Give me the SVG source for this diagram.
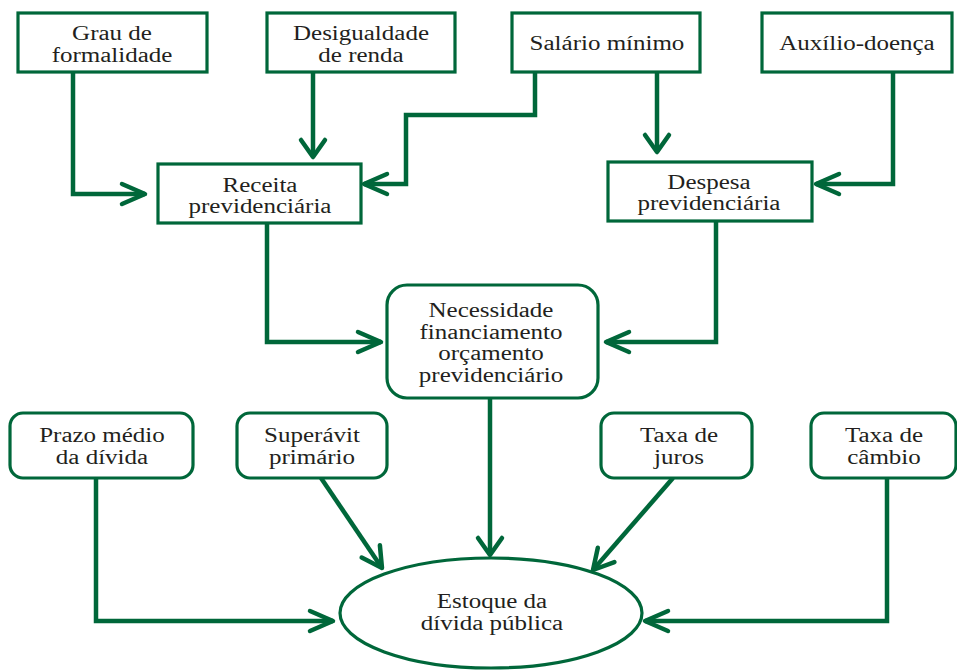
<svg xmlns="http://www.w3.org/2000/svg" width="957" height="670" viewBox="0 0 957 670">
<style>
.box{fill:#fff;stroke:#00673a;stroke-width:3.2}
.t{font-family:"Liberation Serif","Times New Roman",serif;font-size:20px;fill:#231f20;text-anchor:middle}
.c{fill:none;stroke:#00673a;stroke-width:4.5;stroke-linejoin:miter}
</style>
<defs>
<marker id="ah" markerUnits="userSpaceOnUse" markerWidth="60" markerHeight="60" viewBox="-30 -30 60 60" refX="0" refY="0" orient="auto" overflow="visible">
<path d="M-23,-10 L0,0 L-23,10" fill="none" stroke="#00673a" stroke-width="4.5" stroke-linecap="round" stroke-linejoin="round"/>
</marker>
<marker id="av" markerUnits="userSpaceOnUse" markerWidth="60" markerHeight="60" viewBox="-30 -30 60 60" refX="0" refY="0" orient="auto" overflow="visible">
<path d="M-17,-12 L0,0 L-17,12" fill="none" stroke="#00673a" stroke-width="4.5" stroke-linecap="round" stroke-linejoin="round"/>
</marker>
<marker id="ad" markerUnits="userSpaceOnUse" markerWidth="60" markerHeight="60" viewBox="-30 -30 60 60" refX="0" refY="0" orient="auto" overflow="visible">
<path d="M-20,-11 L0,0 L-20,11" fill="none" stroke="#00673a" stroke-width="4.5" stroke-linecap="round" stroke-linejoin="round"/>
</marker>
</defs>
<rect width="957" height="670" fill="#fff"/>
<g id="connectors">
<path class="c" d="M73,72 V194 H145" marker-end="url(#ah)"/>
<path class="c" d="M313,72 V157" marker-end="url(#av)"/>
<path class="c" d="M535,72 V115 H406 V184 H364" marker-end="url(#ah)"/>
<path class="c" d="M657,72 V152" marker-end="url(#av)"/>
<path class="c" d="M893,72 V184 H816" marker-end="url(#ah)"/>
<path class="c" d="M267,223 V342 H381" marker-end="url(#ah)"/>
<path class="c" d="M716,221 V342 H606" marker-end="url(#ah)"/>
<path class="c" d="M490,398 V555" marker-end="url(#av)"/>
<path class="c" d="M96,478 V621 H333" marker-end="url(#ah)"/>
<path class="c" d="M321,478 L382,568" marker-end="url(#ad)"/>
<path class="c" d="M673,478 L593,570" marker-end="url(#ad)"/>
<path class="c" d="M887,478 V621 H645" marker-end="url(#ah)"/>
</g>
<g id="grau">
<rect class="box" x="18" y="13" width="189" height="59"/>
<g transform="matrix(1.25 0 0 1 -28 0)"><text class="t" x="112" y="40">Grau de</text><text class="t" x="112" y="62">formalidade</text></g>
</g>
<g id="desigualdade">
<rect class="box" x="267" y="13" width="188" height="59"/>
<g transform="matrix(1.25 0 0 1 -90.25 0)"><text class="t" x="361" y="40">Desigualdade</text><text class="t" x="361" y="62">de renda</text></g>
</g>
<g id="salario">
<rect class="box" x="512" y="13" width="188" height="59"/>
<g transform="matrix(1.25 0 0 1 -151.75 0)"><text class="t" x="607" y="50">Salário mínimo</text></g>
</g>
<g id="auxilio">
<rect class="box" x="762" y="13" width="190" height="59"/>
<g transform="matrix(1.25 0 0 1 -214.25 0)"><text class="t" x="857" y="50">Auxílio-doença</text></g>
</g>
<g id="receita">
<rect class="box" x="158" y="164" width="203" height="59"/>
<g transform="matrix(1.25 0 0 1 -65 0)"><text class="t" x="260" y="192">Receita</text><text class="t" x="260" y="213">previdenciária</text></g>
</g>
<g id="despesa">
<rect class="box" x="608" y="162" width="204" height="59"/>
<g transform="matrix(1.25 0 0 1 -177.25 0)"><text class="t" x="709" y="189">Despesa</text><text class="t" x="709" y="210">previdenciária</text></g>
</g>
<g id="necessidade">
<rect class="box" x="387" y="285" width="211" height="113" rx="20" ry="20"/>
<g transform="matrix(1.25 0 0 1 -122.75 0)"><text class="t" x="491" y="317">Necessidade</text><text class="t" x="491" y="339">financiamento</text><text class="t" x="491" y="360">orçamento</text><text class="t" x="491" y="382">previdenciário</text></g>
</g>
<g id="prazo">
<rect class="box" x="10" y="413" width="183" height="65" rx="13" ry="13"/>
<g transform="matrix(1.25 0 0 1 -25.5 0)"><text class="t" x="102" y="442">Prazo médio</text><text class="t" x="102" y="464">da dívida</text></g>
</g>
<g id="superavit">
<rect class="box" x="237" y="413" width="150" height="65" rx="13" ry="13"/>
<g transform="matrix(1.25 0 0 1 -78 0)"><text class="t" x="312" y="442">Superávit</text><text class="t" x="312" y="464">primário</text></g>
</g>
<g id="juros">
<rect class="box" x="601" y="413" width="151" height="65" rx="13" ry="13"/>
<g transform="matrix(1.25 0 0 1 -169.75 0)"><text class="t" x="679" y="442">Taxa de</text><text class="t" x="679" y="464">juros</text></g>
</g>
<g id="cambio">
<rect class="box" x="811" y="413" width="145" height="65" rx="13" ry="13"/>
<g transform="matrix(1.25 0 0 1 -221 0)"><text class="t" x="884" y="442">Taxa de</text><text class="t" x="884" y="464">câmbio</text></g>
</g>
<g id="estoque">
<ellipse class="box" cx="491" cy="613" rx="151" ry="55"/>
<g transform="matrix(1.25 0 0 1 -123 0)"><text class="t" x="492" y="608">Estoque da</text><text class="t" x="492" y="630">dívida pública</text></g>
</g>
</svg>
